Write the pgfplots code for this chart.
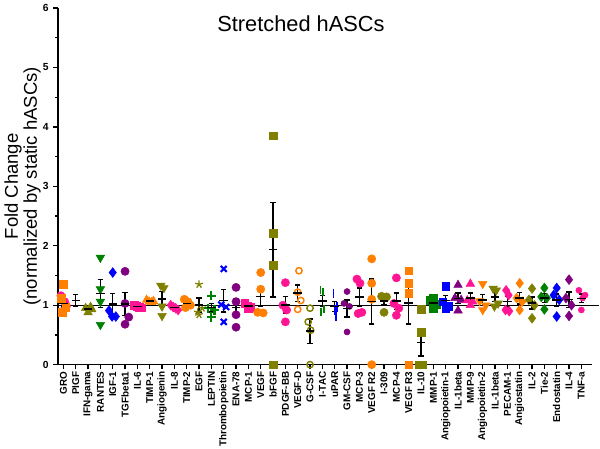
\documentclass[border=0pt]{standalone}
\usepackage{fontspec}
\setmainfont{Liberation Sans}
\usepackage{pgfplots}
\pgfplotsset{compat=1.18}
\definecolor{cpink}{RGB}{255,20,147}
\definecolor{corange}{RGB}{255,128,0}
\definecolor{colive}{RGB}{128,128,0}
\definecolor{cgreen}{RGB}{0,128,0}
\definecolor{cblue}{RGB}{0,0,255}
\definecolor{cpurple}{RGB}{128,0,128}
\pgfplotsset{
  pt/.style={only marks, forget plot, mark options={solid}},
  circ/.style={pt, mark=*, mark size=3.1pt, color=#1},
  sq/.style={pt, mark=square*, mark size=2.9pt, color=#1},
  tri/.style={pt, mark=triangle*, mark size=3.7pt, color=#1},
  dtri/.style={pt, mark=triangle*, mark size=3.7pt, color=#1, mark options={rotate=180}},
  dia/.style={pt, mark=diamond*, mark size=3.7pt, color=#1},
  hcirc/.style={pt, mark=o, mark size=2.4pt, color=#1, mark options={line width=1.1pt}},
}
\begin{document}
\begin{tikzpicture}
\begin{axis}[
  scale only axis, width=404.5pt, height=270pt,
  xmin=-0.45, xmax=42.87, ymin=0, ymax=6,
  axis x line*=bottom, axis y line*=left,
  axis line style={line width=1.1pt},
  xtick={0,...,42},
  xticklabels={GRO,PIGF,IFN-gama,RANTES,IGF-1,TGFbeta1,IL-6,TIMP-1,Angiogenin,IL-8,TIMP-2,EGF,LEPTIN,Thrombopoietin,ENA-78,MCP-1,VEGF,bFGF,PDGF-BB,VEGF-D,G-CSF,I-TAC,uPAR,GM-CSF,MCP-3,VEGF R2,I-309,MCP-4,VEGF R3,IL-10,MMP-1,Angiopoietin-1,IL-1beta,MMP-9,Angiopoietin-2,IL-1beta,PECAM-1,Angiostatin,IL-2,Tie-2,Endostatin,IL-4,TNF-a},
  ytick={0,...,6}, minor y tick num=1,
  tick align=outside, major tick length=3.5pt, minor tick length=2pt,
  tick style={line width=0.9pt, black},
  xticklabel style={rotate=90, anchor=east, font=\bfseries\fontsize{7.5}{8}\selectfont, inner sep=1.5pt},
  yticklabel style={font=\bfseries\fontsize{7.8}{8}\selectfont},
  /pgf/number format/assume math mode=true,
  ylabel={Fold Change\\(normalized by static hASCs)},
  ylabel style={align=center, font=\fontsize{14}{14.5}\selectfont, at={(axis description cs:-0.066,0.5)}, anchor=center},
  clip=false,
]
\path (rel axis cs:-0.0977,-0.2306) rectangle (rel axis cs:1.0148,1.0194);
\node[font=\fontsize{16.5}{20}\selectfont] at (rel axis cs:0.455,0.956) {Stretched hASCs};

\addplot[black, line width=1pt, forget plot] coordinates {(-0.45,1) (43.4,1)};

\addplot[circ=cpink] coordinates {(-0.2,1.16) (0.1,1.06) (0.25,0.99) (-0.05,0.90)};
\addplot[sq=corange] coordinates {(0,1.35) (-0.2,1.12) (0.2,0.97) (-0.1,0.88)};
\addplot[tri=colive] coordinates {(2.2,0.97) (1.8,0.95) (2.3,0.93) (2,0.88)};
\addplot[dtri=cgreen] coordinates {(3,1.80) (3,1.27) (3,1.06) (3,0.67)};
\addplot[dia=cblue] coordinates {(4,1.55) (3.7,0.91) (3.95,0.81) (4.25,0.81)};
\addplot[circ=cpurple] coordinates {(5,1.57) (5,1.03) (5.3,0.80) (5,0.68)};
\addplot[sq=cpink] coordinates {(5.75,1.00) (5.95,0.98) (6.15,0.97) (6.3,0.96)};
\addplot[tri=corange] coordinates {(6.75,1.09) (7.3,1.07) (6.95,1.06) (7.15,1.05)};
\addplot[dtri=colive] coordinates {(7.9,1.33) (8.15,1.29) (8,0.98) (8,0.82)};
\addplot[dia=cpink] coordinates {(8.7,1.00) (8.9,0.97) (9.1,0.95) (9.3,0.92)};
\addplot[circ=corange] coordinates {(9.8,1.10) (10.1,1.06) (10.3,1.00) (9.9,0.96)};
\addplot[pt, mark=star, mark size=3pt, colive, mark options={line width=1pt}] coordinates {(11,1.35) (11.25,0.95) (10.9,0.88) (11,0.84)};
\addplot[pt, mark=+, mark size=3.5pt, cgreen, mark options={line width=1.6pt}] coordinates {(12,1.16) (11.75,0.95) (12.25,0.92) (12,0.80)};
\addplot[pt, mark=x, mark size=3.2pt, cblue, mark options={line width=1.6pt}] coordinates {(13,1.61) (12.8,1.01) (13.2,0.97) (13,0.72)};
\addplot[circ=cpurple] coordinates {(14,1.30) (14,1.06) (14,0.84) (14,0.63)};
\addplot[sq=cpink] coordinates {(14.7,1.03) (14.95,0.99) (15.2,0.97) (15,0.95)};
\addplot[circ=corange] coordinates {(16,1.55) (16,1.27) (15.75,0.88) (16.2,0.87)};
\addplot[sq=colive] coordinates {(17,3.85) (17,2.21) (17,1.67) (17,0)};
\addplot[circ=cpink] coordinates {(18,1.38) (17.8,1.00) (18.1,0.92) (18,0.72)};
\addplot[hcirc=corange] coordinates {(19.1,1.58) (19,1.22) (19.25,1.08) (19,0.93)};
\addplot[hcirc=colive] coordinates {(20,0.95) (19.85,0.72) (20.05,0.58) (20,0)};
\addplot[pt, mark=|, mark size=3pt, cgreen, mark options={line width=1.3pt}] coordinates {(20.85,1.25) (21.05,1.22) (21.15,0.93) (20.9,0.88)};
\addplot[pt, mark=|, mark size=3.5pt, cblue, mark options={line width=1.4pt}] coordinates {(21.9,1.20) (22.2,0.97) (22,0.92) (22.1,0.82)};
\addplot[pt, mark=*, mark size=2.3pt, cpurple] coordinates {(23,1.23) (22.75,1.03) (23.2,0.98) (23,0.55)};
\addplot[circ=cpink] coordinates {(23.8,1.44) (24.05,1.37) (24.2,0.88) (23.9,0.86)};
\addplot[circ=corange] coordinates {(25,1.78) (25,1.37) (25,1.10) (25,0)};
\addplot[circ=colive] coordinates {(25.8,1.15) (26.2,1.14) (26,1.12) (26,0.88)};
\addplot[circ=cpink] coordinates {(27,1.46) (26.8,1.03) (27.2,0.95) (27,0.83)};
\addplot[sq=corange] coordinates {(28,1.58) (28,1.37) (28,1.20) (28,0)};
\addplot[sq=colive] coordinates {(29,0.93) (29,0.55) (28.85,0) (29.15,0)};
\addplot[sq=cgreen] coordinates {(30,1.12) (29.75,1.08) (30.25,1.02) (30,0.94)};
\addplot[sq=cblue] coordinates {(31,1.32) (30.75,1.06) (31.2,0.98) (31,0.95)};
\addplot[tri=cpurple] coordinates {(32,1.34) (31.75,1.12) (32.25,1.09) (32,0.91)};
\addplot[tri=cpink] coordinates {(33,1.36) (32.75,1.08) (33.2,1.06) (33,1.00)};
\addplot[dtri=corange] coordinates {(34,1.36) (33.75,1.07) (34.25,1.00) (34,0.92)};
\addplot[dtri=colive] coordinates {(34.85,1.28) (35.1,1.25) (35.25,1.03) (34.95,0.98)};
\addplot[dia=cpink] coordinates {(35.9,1.25) (36.1,1.17) (35.85,0.92) (36.15,0.90)};
\addplot[dia=corange] coordinates {(37,1.37) (36.75,1.12) (37.2,1.06) (37,0.92)};
\addplot[dia=colive] coordinates {(38,1.28) (37.75,1.09) (38.2,1.00) (38,0.78)};
\addplot[dia=cgreen] coordinates {(39,1.29) (38.75,1.14) (39.2,1.12) (39,0.93)};
\addplot[dia=cblue] coordinates {(40,1.29) (39.75,1.17) (40.2,1.09) (40,0.81)};
\addplot[dia=cpurple] coordinates {(41,1.43) (40.75,1.12) (41.2,1.00) (41,0.82)};
\addplot[pt, mark=*, mark size=2.3pt, cpink] coordinates {(41.8,1.25) (42.3,1.17) (42.1,1.12) (42,0.92)};

\addplot[black, only marks, mark=-, mark size=3.2pt, mark options={line width=1.1pt},
  error bars/.cd, y dir=both, y explicit,
  error bar style={line width=1.1pt, black},
  error mark options={rotate=90, line width=1.1pt, mark size=2pt, black}]
  table[x=x, y=m, y error=e] {
x m e
0 1.028 0.055
1 1.080 0.103
2 0.933 0.019
3 1.200 0.235
4 1.020 0.178
5 1.020 0.197
6 0.978 0.009
7 1.068 0.009
8 1.105 0.123
9 0.960 0.017
10 1.030 0.031
11 1.005 0.117
12 0.958 0.075
13 1.078 0.189
14 0.958 0.144
15 0.985 0.017
16 1.143 0.165
17 1.933 0.794
18 1.005 0.138
19 1.203 0.139
20 0.563 0.203
21 1.070 0.096
22 0.978 0.080
23 0.948 0.143
24 1.138 0.155
25 1.063 0.381
26 1.073 0.065
27 1.068 0.137
28 1.038 0.354
29 0.370 0.227
30 1.040 0.039
31 1.078 0.084
32 1.115 0.088
33 1.125 0.080
34 1.088 0.096
35 1.135 0.076
36 1.060 0.088
37 1.118 0.094
38 1.038 0.104
39 1.120 0.074
40 1.090 0.102
41 1.093 0.128
42 1.115 0.070
};
\end{axis}
\end{tikzpicture}
\end{document}
